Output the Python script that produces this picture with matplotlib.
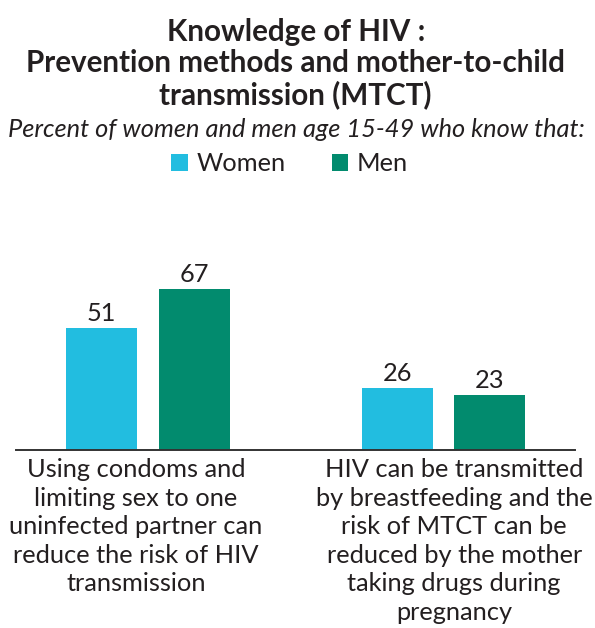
import numpy as np
import matplotlib.pyplot as plt

plt.rcParams['font.family'] = ['Lato', 'DejaVu Sans']

# knowledge indicators, percent of women / men age 15-49
categories = [
    "Using condoms and\nlimiting sex to one\nuninfected partner can\nreduce the risk of HIV\ntransmission",
    "HIV can be transmitted\nby breastfeeding and the\nrisk of MTCT can be\nreduced by the mother\ntaking drugs during\npregnancy",
]
women = [51, 26]
men = [67, 23]

WOMEN_COLOR = '#22bde0'
MEN_COLOR = '#028b6e'
TEXT_COLOR = '#231f20'
FS = 18.3

fig = plt.figure(figsize=(5.95, 6.28), dpi=100)
ax = fig.add_axes([0.0269, 0.2834, 0.9395, 0.3822])

x = np.arange(len(categories))
width = 0.240
offset = 0.157

b1 = ax.bar(x - offset, women, width, color=WOMEN_COLOR, label='Women')
b2 = ax.bar(x + offset, men, width, color=MEN_COLOR, label='Men')
for bars in (b1, b2):
    ax.bar_label(bars, padding=2, fontsize=FS, color=TEXT_COLOR)

ax.set_xlim(-0.4467, 1.4450)
ax.set_ylim(0, 100)
for side in ('left', 'right', 'top'):
    ax.spines[side].set_visible(False)
ax.spines['bottom'].set_color('#333333')
ax.spines['bottom'].set_linewidth(1.4)
ax.set_xticks([])
ax.set_yticks([])

# category labels sit slightly off the group centres
label_shift = [-0.041, 0.036]
for i, text in enumerate(categories):
    ax.text(x[i] + label_shift[i], -0.035, text, transform=ax.get_xaxis_transform(),
            ha='center', va='top', fontsize=FS, color=TEXT_COLOR, linespacing=1.29)

fig.text(0.497, 0.899, "Knowledge of HIV :\nPrevention methods and mother-to-child\ntransmission (MTCT)",
         ha='center', va='center', fontsize=21.3, fontweight='bold', color=TEXT_COLOR,
         linespacing=1.13)
fig.text(0.498, 0.793, "Percent of women and men age 15-49 who know that:",
         ha='center', va='center', fontsize=FS, style='italic', color=TEXT_COLOR)

fig.legend(handles=[b1, b2], loc='center', bbox_to_anchor=(0.487, 0.739), ncol=2,
           frameon=False, fontsize=FS, handlelength=0.65, handleheight=0.65,
           handletextpad=0.35, columnspacing=1.8, labelcolor=TEXT_COLOR)

fig.savefig('out.png', dpi=100)
